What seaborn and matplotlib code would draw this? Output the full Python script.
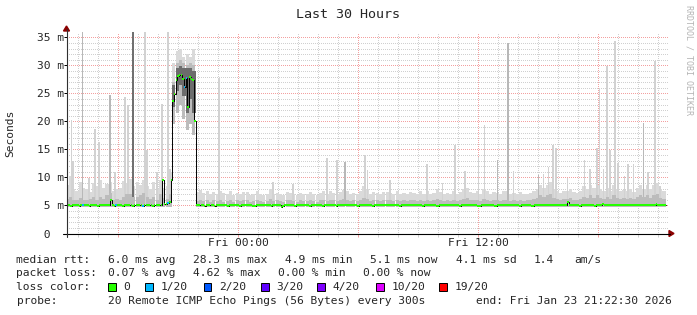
import matplotlib
matplotlib.use("Agg")
import numpy as np
import pandas as pd
import matplotlib.pyplot as plt
from matplotlib.patches import Polygon, Rectangle
from matplotlib.lines import Line2D
import seaborn as sns

W, H = 697, 315

# ---------------- data (hours relative to Fri 00:00) ----------------
START_H = -8.625          # Thu 15:22:30
MED_STEP = 5 / 60         # 5-minute median samples
SMOKE_STEP = 10 / 60      # 10-minute smoke samples

# median rtt in ms, one row per hour, 12 x 5-minute samples
median_ms = [
    5.0, 5.1, 5.0, 4.9, 5.0, 5.0, 5.1, 5.0, 4.9, 5.0, 5.0, 5.1,
    5.0, 5.0, 4.9, 5.0, 5.1, 5.0, 5.0, 4.9, 5.0, 5.0, 5.1, 5.0,
    5.0, 5.1, 5.0, 6.0, 5.0, 4.9, 5.0, 5.0, 5.1, 5.0, 4.9, 5.0,
    5.0, 5.0, 5.1, 5.0, 4.9, 5.0, 5.0, 5.1, 5.0, 5.0, 4.9, 5.0,
    5.0, 5.1, 5.0, 5.0, 4.9, 5.0, 5.1, 5.0, 5.0, 5.1, 9.5, 5.3,
    5.3, 5.5, 5.6, 9.5, 23.7, 24.9, 27.3, 28.1, 28.3, 28.2, 27.5, 26.2,
    27.8, 22.6, 27.9, 27.6, 27.3, 20.1, 5.0, 5.0, 5.1, 5.0, 5.0, 4.9,
    5.0, 5.0, 5.1, 5.0, 5.0, 4.9, 5.0, 5.1, 5.0, 5.0, 5.0, 5.1,
    5.0, 4.9, 5.0, 5.0, 5.1, 5.0, 5.0, 5.0, 4.9, 5.0, 5.1, 5.0,
    5.0, 5.0, 5.1, 5.0, 4.9, 4.9, 5.0, 5.0, 5.1, 5.0, 5.0, 5.0,
    5.1, 5.0, 5.0, 4.9, 5.0, 5.0, 5.1, 5.0, 5.0, 4.8, 4.9, 5.0,
    5.0, 5.1, 5.0, 5.0, 5.0, 4.9, 5.0, 5.1, 5.0, 5.0, 5.1, 5.0,
    5.0, 5.0, 4.9, 5.0, 5.1, 5.0, 5.0, 5.0, 5.1, 5.0, 4.9, 5.0,
    5.1, 5.0, 5.0, 5.1, 5.0, 5.0, 4.9, 5.0, 5.0, 5.1, 5.0, 5.0,
    5.0, 5.0, 5.1, 5.0, 5.0, 5.1, 5.0, 4.9, 5.0, 5.0, 5.1, 5.0,
    5.1, 5.0, 5.0, 5.0, 4.9, 5.0, 5.1, 5.0, 5.0, 5.0, 5.1, 5.0,
    5.0, 5.1, 5.0, 5.0, 5.0, 5.1, 5.0, 5.0, 4.9, 5.0, 5.0, 5.1,
    5.0, 5.0, 5.0, 5.1, 5.0, 5.0, 5.1, 5.0, 5.0, 5.0, 4.9, 5.0,
    5.0, 5.1, 5.0, 5.0, 5.1, 5.0, 4.9, 4.9, 5.0, 5.0, 5.1, 5.0,
    5.0, 5.0, 5.1, 5.0, 5.0, 5.0, 5.1, 5.0, 4.9, 5.0, 5.0, 5.0,
    5.1, 5.0, 5.0, 5.1, 5.0, 5.0, 5.0, 4.9, 4.9, 5.0, 5.1, 5.0,
    5.0, 5.0, 5.1, 5.0, 5.0, 4.9, 4.9, 5.0, 5.0, 5.0, 5.1, 5.0,
    5.0, 5.1, 5.0, 5.0, 5.0, 5.1, 5.0, 5.0, 4.9, 5.0, 5.0, 5.1,
    5.0, 5.0, 5.0, 4.9, 4.9, 5.0, 5.1, 5.0, 5.0, 5.0, 5.1, 5.0,
    5.1, 5.0, 5.0, 5.0, 5.1, 5.0, 5.0, 5.0, 5.1, 5.0, 5.0, 5.0,
    5.0, 5.6, 5.1, 5.1, 5.0, 5.0, 5.0, 5.0, 4.9, 5.0, 5.1, 5.0,
    5.0, 5.0, 5.1, 5.0, 5.0, 4.9, 5.0, 5.0, 5.0, 5.1, 5.3, 5.0,
    5.1, 5.0, 5.0, 5.1, 5.0, 5.0, 5.0, 5.1, 5.0, 5.0, 5.0, 5.1,
    5.0, 5.0, 5.1, 5.0, 5.0, 5.1, 5.0, 5.0, 5.0, 5.1, 5.0, 5.0,
    5.1, 5.0, 5.0, 5.1, 5.0, 5.1, 5.2, 5.0, 5.1, 5.0, 5.0, 5.1,
]

# median samples that had packet loss (sample index, lost pings of 20)
loss_bin = [10, 30, 46, 61, 71, 72]
loss_count = [1, 1, 1, 1, 1, 1]

# smoke (10-minute samples, one row per hour): lowest ping, dense band top, highest ping
smoke_lo = [
    4.8, 4.8, 4.8, 4.8, 4.8, 4.8,
    4.8, 4.8, 4.8, 4.8, 4.8, 4.8,
    4.8, 4.8, 4.8, 4.8, 4.8, 4.8,
    4.8, 4.8, 4.8, 4.8, 4.8, 4.8,
    4.8, 4.8, 4.8, 4.8, 4.8, 4.8,
    4.8, 4.8, 19.5, 21.5, 23.0, 20.5,
    18.5, 19.5, 17.5, 4.8, 4.8, 4.8,
    4.8, 4.8, 4.8, 4.8, 4.8, 4.8,
    4.8, 4.8, 4.8, 4.8, 4.8, 4.8,
    4.8, 4.8, 4.8, 4.8, 4.8, 4.8,
    4.8, 4.8, 4.8, 4.8, 4.8, 4.8,
    4.8, 4.8, 4.8, 4.8, 4.8, 4.8,
    4.8, 4.8, 4.8, 4.8, 4.8, 4.8,
    4.8, 4.8, 4.8, 4.8, 4.8, 4.8,
    4.8, 4.8, 4.8, 4.8, 4.8, 4.8,
    4.8, 4.8, 4.8, 4.8, 4.8, 4.8,
    4.8, 4.8, 4.8, 4.8, 4.8, 4.8,
    4.8, 4.8, 4.8, 4.8, 4.8, 4.8,
    4.8, 4.8, 4.8, 4.8, 4.8, 4.8,
    4.8, 4.8, 4.8, 4.8, 4.8, 4.8,
    4.8, 4.8, 4.8, 4.8, 4.8, 4.8,
    4.8, 4.8, 4.8, 4.8, 4.8, 4.8,
    4.8, 4.8, 4.8, 4.8, 4.8, 4.8,
    4.8, 4.8, 4.8, 4.8, 4.8, 4.8,
    4.8, 4.8, 4.8, 4.8, 4.8, 4.8,
    4.8, 4.8, 4.8, 4.8, 4.8, 4.8,
    4.8, 4.8, 4.8, 4.8, 4.8, 4.8,
    4.8, 4.8, 4.8, 4.8, 4.8, 4.8,
    4.8, 4.8, 4.8, 4.8, 4.8, 4.8,
    4.8, 4.8, 4.8, 4.8, 4.8, 4.8,
]
smoke_mid = [
    6.2, 6.6, 6.0, 5.9, 6.4, 6.0,
    6.0, 6.2, 6.6, 6.0, 6.6, 6.2,
    6.8, 7.2, 6.0, 6.2, 6.0, 6.6,
    7.0, 7.0, 6.6, 6.6, 6.8, 7.2,
    6.6, 6.2, 6.6, 6.0, 7.0, 6.4,
    6.2, 7.0, 27.0, 30.5, 31.0, 30.5,
    30.0, 30.5, 30.0, 5.8, 6.0, 5.8,
    5.9, 5.7, 6.0, 5.8, 6.0, 5.7,
    5.8, 6.0, 5.7, 5.9, 5.8, 6.0,
    6.0, 5.7, 5.8, 6.0, 5.8, 5.7,
    5.8, 6.2, 5.8, 5.9, 5.8, 5.7,
    6.0, 5.9, 5.8, 5.7, 5.9, 5.8,
    5.8, 6.0, 5.8, 5.7, 5.9, 6.0,
    5.8, 6.0, 5.9, 5.8, 6.0, 6.2,
    6.0, 5.8, 5.9, 5.8, 6.0, 6.4,
    6.2, 5.8, 6.0, 5.9, 5.8, 6.0,
    6.0, 5.9, 5.8, 6.0, 5.8, 5.9,
    5.8, 6.0, 5.9, 5.8, 6.0, 5.8,
    6.0, 5.8, 5.9, 6.2, 6.0, 5.8,
    5.9, 5.8, 6.0, 5.8, 6.0, 6.2,
    6.4, 6.0, 5.9, 6.0, 5.8, 6.2,
    6.0, 5.8, 6.0, 5.9, 5.8, 6.0,
    6.0, 5.8, 5.9, 5.8, 6.0, 5.8,
    5.9, 6.0, 6.2, 6.4, 6.8, 6.6,
    6.8, 7.0, 6.4, 6.2, 6.0, 6.2,
    6.2, 6.4, 6.0, 6.0, 6.2, 6.6,
    6.4, 6.8, 6.4, 6.8, 6.4, 6.2,
    6.6, 6.2, 6.8, 6.4, 6.2, 6.4,
    6.2, 6.4, 6.2, 6.6, 6.8, 6.6,
    6.8, 6.4, 6.8, 7.0, 6.4, 6.2,
]
smoke_hi = [
    8.6, 10.2, 8.0, 7.6, 9.2, 8.2,
    8.0, 7.4, 9.0, 8.4, 9.6, 8.2,
    8.8, 9.2, 7.6, 8.0, 8.2, 9.4,
    9.0, 9.8, 8.4, 9.2, 8.6, 9.6,
    8.4, 8.0, 9.2, 8.0, 9.6, 8.2,
    8.4, 11.0, 30.5, 32.5, 33.0, 31.5,
    32.0, 31.5, 33.0, 7.4, 7.8, 7.2,
    7.6, 7.0, 7.4, 7.0, 7.6, 7.2,
    7.0, 7.6, 6.8, 7.2, 7.0, 7.4,
    7.4, 6.8, 7.0, 7.6, 7.0, 6.8,
    7.0, 8.0, 7.0, 7.2, 7.0, 6.8,
    7.4, 7.2, 7.0, 6.8, 7.2, 7.0,
    7.0, 7.4, 7.0, 6.8, 7.2, 7.6,
    7.0, 7.6, 7.2, 7.0, 7.4, 7.8,
    7.6, 7.0, 7.2, 7.0, 7.6, 8.4,
    8.0, 7.0, 7.4, 7.2, 7.0, 7.4,
    7.4, 7.2, 7.0, 7.6, 7.0, 7.2,
    7.0, 7.4, 7.2, 7.0, 7.6, 7.0,
    7.6, 7.0, 7.2, 8.0, 7.4, 7.0,
    7.2, 7.0, 7.6, 7.0, 7.4, 8.0,
    8.2, 7.4, 7.2, 7.6, 7.0, 8.0,
    7.6, 7.0, 7.4, 7.2, 7.0, 7.6,
    7.6, 7.0, 7.2, 7.0, 7.4, 7.0,
    7.0, 7.2, 7.6, 8.0, 8.6, 8.2,
    8.6, 9.2, 8.0, 7.6, 7.2, 7.6,
    7.6, 8.0, 7.4, 7.2, 7.6, 8.4,
    8.0, 8.6, 8.2, 8.6, 8.0, 7.6,
    8.2, 7.6, 8.6, 8.0, 7.6, 7.8,
    7.6, 8.0, 7.4, 8.2, 8.6, 8.0,
    8.6, 8.0, 8.6, 9.0, 8.0, 7.6,
]

# dense core of the smoke during the high-latency period (10-minute sample index, low, high)
core_bin = [32, 33, 34, 35, 36, 37, 38]
core_lo = [22.5, 25.5, 26.5, 24.5, 21.5, 24.0, 21.5]
core_hi = [26.5, 29.5, 29.8, 29.5, 29.5, 29.5, 29.0]

# single outlier pings (time in hours, highest ping ms, shade 0 light / 1 medium / 2 dark)
spike_hour = [-8.32, -8.25, -7.77, -7.45, -7.15, -6.95, -6.40, -6.15, -5.65, -5.50,
              -5.27, -4.65, -4.55, -4.07, -3.79, -3.52, -3.40, -0.95, 1.74, 2.74,
              4.44, 4.94, 5.35, 6.35, 6.47, 7.60, 9.44, 10.22, 10.85, 11.35,
              12.02, 12.32, 12.97, 13.49, 13.77, 15.02, 15.27, 15.52, 15.74, 15.90,
              16.47, 17.32, 17.60, 17.94, 18.07, 18.27, 18.44, 18.60, 18.85, 18.99,
              19.32, 19.49, 19.77, 20.27, 20.49, 20.85, 21.10]
spike_top = [20.2, 13.0, 36.0, 9.9, 18.6, 16.4, 24.7, 11.0, 24.4, 23.0,
             36.0, 36.0, 14.9, 11.0, 23.1, 36.0, 11.5, 27.8, 9.1, 8.9,
             13.4, 13.1, 12.8, 14.0, 11.3, 9.5, 12.4, 9.0, 15.8, 11.2,
             13.7, 19.4, 13.1, 33.9, 11.1, 10.5, 10.7, 11.9, 15.7, 15.3,
             9.9, 13.1, 11.5, 15.2, 26.0, 11.5, 29.9, 14.9, 34.3, 12.6,
             10.2, 12.4, 12.4, 19.7, 10.9, 30.8, 8.4]
spike_shade = [0, 0, 1, 0, 0, 0, 1, 0, 0, 0,
               2, 0, 0, 0, 0, 0, 0, 0, 0, 0,
               0, 0, 1, 0, 0, 0, 0, 0, 0, 0,
               0, 0, 1, 1, 0, 1, 0, 0, 0, 0,
               0, 0, 0, 0, 0, 0, 0, 0, 0, 0,
               0, 0, 0, 1, 0, 0, 0]

loss_labels = ["0", "1/20", "2/20", "3/20", "4/20", "10/20", "19/20"]
loss_colors = ["#26ff00", "#00b8ff", "#0059ff", "#5e00ff", "#7e00ff", "#dd00ff", "#ff0000"]

y_ticks = [0, 5, 10, 15, 20, 25, 30, 35]
y_tick_labels = [" 0", " 5 m", "10 m", "15 m", "20 m", "25 m", "30 m", "35 m"]
x_major = [-6, 0, 6, 12, 18]
x_major_labels = ["", "Fri 00:00", "", "Fri 12:00", ""]

stats_rows = [
    ("median rtt:", [("6.0 ms avg", 107.7), ("28.3 ms max", 192.7), ("4.9 ms min", 285.2),
                     ("5.1 ms now", 370.2), ("4.1 ms sd", 455.7), ("1.4", 533.2), ("am/s", 574.7)]),
    ("packet loss:", [("0.07 % avg", 107.7), ("4.62 % max", 192.7), ("0.00 % min", 277.7),
                      ("0.00 % now", 363.2)]),
]
probe_text = "20 Remote ICMP Echo Pings (56 Bytes) every 300s"
end_text = "end: Fri Jan 23 21:22:30 2026"

# ---------------- figure ----------------
sns.set_theme(style="white")
MONO = "DejaVu Sans Mono"
plt.rcParams["font.family"] = [MONO, "DejaVu Sans"]
FS = 8.1

fig = plt.figure(figsize=(W / 100, H / 100), dpi=100)
fig.patch.set_facecolor("white")


def fx(x):
    return x / W


def fy(y):
    return 1 - y / H


AX_L, AX_R, AX_T, AX_B = 66.5, 668.0, 32.0, 233.5
ax = fig.add_axes([fx(AX_L), fy(AX_B), (AX_R - AX_L) / W, (AX_B - AX_T) / H])
ax.set_facecolor("white")
X0 = (AX_L - 238) / 20
X1 = (AX_R - 238) / 20
ax.set_xlim(X0, X1)
YTOP = (AX_B - AX_T) / 5.606
ax.set_ylim(0, YTOP)
for s in ax.spines.values():
    s.set_visible(False)

# grid
ax.set_yticks(y_ticks)
ax.set_yticks(np.arange(1, 36, 1), minor=True)
ax.set_xticks(x_major)
ax.set_xticks(np.arange(-8, 22, 1), minor=True)
ax.grid(which="minor", color="#d0d0d0", linestyle=(0, (1, 1.6)), linewidth=0.72,
        antialiased=False, zorder=0)
ax.grid(which="major", color="#f3a0a0", linestyle=(0, (1, 1.6)), linewidth=0.72,
        antialiased=False, zorder=0)
ax.set_axisbelow(True)

ax.set_yticklabels(y_tick_labels, fontsize=FS, family=MONO)
for t in ax.get_yticklabels():
    t.set_horizontalalignment("left")
ax.tick_params(axis="y", which="major", length=2.2, width=0.72, color="black", pad=19.0, left=True)
ax.tick_params(axis="y", which="minor", length=0)
ax.set_xticklabels(x_major_labels, fontsize=FS, family=MONO)
ax.tick_params(axis="x", which="major", length=2, width=0.72, color="#f3a0a0", pad=1.5, bottom=True)
ax.tick_params(axis="x", which="minor", length=2, width=0.72, color="#d0d0d0", bottom=True)

# smoke
smoke_t = START_H + np.arange(len(smoke_hi)) * SMOKE_STEP
lo = np.array(smoke_lo)
ax.bar(smoke_t, np.array(smoke_hi) - lo, bottom=lo, width=SMOKE_STEP, align="edge",
       color="#dadada", linewidth=0, zorder=2)
shade_cols = ["#d2d2d2", "#b8b8b8", "#707070"]
ax.bar(spike_hour, np.array(spike_top) - 5.0, bottom=5.0, width=0.09,
       color=[shade_cols[s] for s in spike_shade], linewidth=0, zorder=2.5)
ax.bar(smoke_t, np.array(smoke_mid) - lo, bottom=lo, width=SMOKE_STEP, align="edge",
       color="#bcbcbc", linewidth=0, zorder=3)
core_t = START_H + np.array(core_bin) * SMOKE_STEP
ax.bar(core_t, np.array(core_hi) - np.array(core_lo), bottom=core_lo, width=SMOKE_STEP,
       align="edge", color="#6c6c6c", linewidth=0, zorder=3.5)

# median
med = np.array(median_ms)
med_t = START_H + np.arange(len(med)) * MED_STEP
df = pd.DataFrame({"t": np.append(med_t, med_t[-1] + MED_STEP), "ms": np.append(med, med[-1])})
sns.lineplot(data=df, x="t", y="ms", ax=ax, color="black", linewidth=0.7,
             drawstyle="steps-post", estimator=None, sort=False, zorder=4)
seg_col = [loss_colors[0]] * len(med)
for b, c in zip(loss_bin, loss_count):
    seg_col[b] = loss_colors[min(c, 6)]
ax.hlines(med, med_t, med_t + MED_STEP, colors=seg_col, linewidth=1.44,
          antialiased=False, zorder=5)
ax.set_xlabel("")
ax.set_ylabel("")

# axes lines and arrows
fig.add_artist(Line2D([fx(63), fx(670)], [fy(AX_B), fy(AX_B)], color="black", lw=0.8))
fig.add_artist(Line2D([fx(AX_L), fx(AX_L)], [fy(237), fy(29)], color="#303030", lw=0.8))
fig.add_artist(Polygon([[fx(669), fy(230.5)], [fx(669), fy(236.5)], [fx(674), fy(233.5)]],
                       closed=True, color="#8b0000", transform=fig.transFigure))
fig.add_artist(Polygon([[fx(63.5), fy(31)], [fx(69.5), fy(31)], [fx(66.5), fy(26)]],
                       closed=True, color="#8b0000", transform=fig.transFigure))

# texts
fig.text(0.5, fy(14), "Last 30 Hours", ha="center", va="center", fontsize=9.6, family=MONO)
fig.text(fx(10.5), fy(133), "Seconds", rotation=90, ha="center", va="center", fontsize=FS, family=MONO)
fig.text(fx(688.5), fy(5), "RRDTOOL / TOBI OETIKER", rotation=270, ha="center", va="top",
         fontsize=6.0, family=MONO, color="#b4b4b4")

row_y = [259.7, 273.3, 287.3, 301.0]
for (lab, items), y in zip(stats_rows, row_y[:2]):
    fig.text(fx(16.5), fy(y), lab, ha="left", va="center", fontsize=FS, family=MONO)
    for txt, x in items:
        fig.text(fx(x), fy(y), txt, ha="left", va="center", fontsize=FS, family=MONO)

fig.text(fx(16.5), fy(row_y[2]), "loss color:", ha="left", va="center", fontsize=FS, family=MONO)
box_x = [108.1, 145.1, 203.7, 261.0, 317.4, 376.4, 439.4]
for lab, col, bx in zip(loss_labels, loss_colors, box_x):
    fig.add_artist(Rectangle((fx(bx), fy(291.3)), 7.5 / W, 8 / H, facecolor=col,
                             edgecolor="black", linewidth=0.7, transform=fig.transFigure))
    fig.text(fx(bx + 15.5), fy(row_y[2]), lab, ha="left", va="center", fontsize=FS, family=MONO)

fig.text(fx(16.5), fy(row_y[3]), "probe:", ha="left", va="center", fontsize=FS, family=MONO)
fig.text(fx(107.7), fy(row_y[3]), probe_text, ha="left", va="center", fontsize=FS, family=MONO)
fig.text(fx(475.5), fy(row_y[3]), end_text, ha="left", va="center", fontsize=FS, family=MONO)

fig.savefig("out.png", dpi=100, facecolor="white")
